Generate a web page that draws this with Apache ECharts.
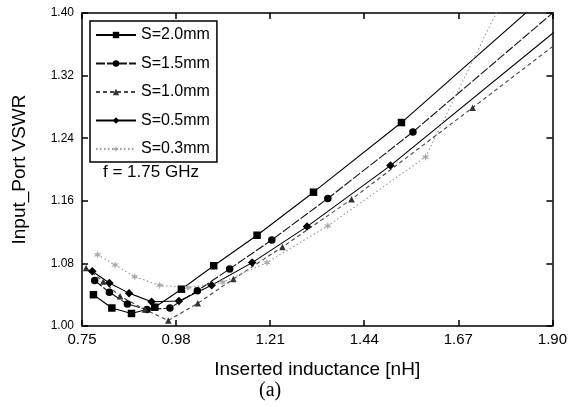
<!DOCTYPE html>
<html><head><meta charset="utf-8">
<script src="https://cdn.jsdelivr.net/npm/echarts@6/dist/echarts.min.js"></script>
<style>html,body{margin:0;padding:0;background:#fff}#c{width:570px;height:407px}</style>
</head><body><div id="c"></div>
<script>
const xTicks = [0.75, 0.98, 1.21, 1.44, 1.67, 1.90];
const yTicks = [1.00, 1.08, 1.16, 1.24, 1.32, 1.40];
const seriesNames = ['S=2.0mm', 'S=1.5mm', 'S=1.0mm', 'S=0.5mm', 'S=0.3mm'];

const s20X = [0.778, 0.823, 0.871, 0.928, 0.993, 1.072, 1.178, 1.316, 1.531, 1.90];
const s20Y = [1.040, 1.023, 1.016, 1.024, 1.047, 1.077, 1.116, 1.171, 1.260, 1.430];

const s15X = [0.781, 0.817, 0.861, 0.909, 0.965, 1.032, 1.111, 1.214, 1.351, 1.559, 1.95];
const s15Y = [1.058, 1.043, 1.028, 1.021, 1.023, 1.045, 1.073, 1.110, 1.163, 1.248, 1.422];

const s10X = [0.760, 0.802, 0.843, 0.904, 0.961, 1.033, 1.120, 1.240, 1.409, 1.705, 1.95];
const s10Y = [1.074, 1.057, 1.038, 1.021, 1.007, 1.029, 1.060, 1.101, 1.162, 1.279, 1.377];

const s05X = [0.775, 0.817, 0.865, 0.920, 0.987, 1.067, 1.166, 1.300, 1.504, 1.95];
const s05Y = [1.070, 1.055, 1.042, 1.031, 1.032, 1.052, 1.081, 1.127, 1.205, 1.395];

const s03X = [0.788, 0.831, 0.879, 0.940, 1.009, 1.094, 1.202, 1.351, 1.590, 1.80];
const s03Y = [1.091, 1.078, 1.063, 1.052, 1.049, 1.056, 1.081, 1.128, 1.216, 1.440];

const pairs = (xs, ys) => xs.map((x, i) => [x, ys[i]]);
const FONT = '"Liberation Sans", Arial, sans-serif';
const starPath = 'path://M0,-10 L2,-3 L9,-5 L4,0 L9,5 L2,3 L0,10 L-2,3 L-9,5 L-4,0 L-9,-5 L-2,-3 Z';

function mk(name, data, symbol, size, color, lineType, lineColor) {
  return {
    name: name, type: 'line', data: data, symbol: symbol, symbolSize: size,
    clip: true, animation: false,
    itemStyle: { color: color },
    lineStyle: { color: lineColor, width: 1.1, type: lineType },
    xAxisIndex: 0, yAxisIndex: 0
  };
}

const chart = echarts.init(document.getElementById('c'), null, { renderer: 'canvas' });
const axisCommon = {
  type: 'value',
  axisLine: { show: true, onZero: false, lineStyle: { color: '#000', width: 1.5 } },
  splitLine: { show: false }
};
chart.setOption({
  animation: false,
  backgroundColor: '#fff',
  grid: { left: 82, right: 17, top: 13, bottom: 81 },
  xAxis: [
    Object.assign({}, axisCommon, {
      min: 0.75, max: 1.90, position: 'bottom',
      axisTick: { show: true, inside: true, length: 6, customValues: xTicks, lineStyle: { color: '#000', width: 1.5 } },
      axisLabel: { show: true, customValues: xTicks, margin: 6, fontSize: 15, fontFamily: FONT, color: '#000',
        formatter: v => v.toFixed(2) },
      name: 'Inserted inductance [nH]', nameLocation: 'middle', nameGap: 34,
      nameTextStyle: { fontSize: 19, fontFamily: FONT, color: '#000' }
    }),
    Object.assign({}, axisCommon, {
      min: 0.75, max: 1.90, position: 'top',
      axisTick: { show: true, inside: true, length: 6, customValues: xTicks, lineStyle: { color: '#000', width: 1.5 } },
      axisLabel: { show: false }
    })
  ],
  yAxis: [
    Object.assign({}, axisCommon, {
      min: 1.00, max: 1.40, position: 'left',
      axisTick: { show: true, inside: true, length: 6, customValues: yTicks, lineStyle: { color: '#000', width: 1.5 } },
      axisLabel: { show: true, customValues: yTicks, margin: 8, fontSize: 12, fontFamily: FONT, color: '#000',
        formatter: v => v.toFixed(2) },
      name: 'Input_Port VSWR', nameLocation: 'middle', nameGap: 53, nameRotate: 90,
      nameTextStyle: { fontSize: 19, fontFamily: FONT, color: '#000' }
    }),
    Object.assign({}, axisCommon, {
      min: 1.00, max: 1.40, position: 'right',
      axisTick: { show: true, inside: true, length: 6, customValues: yTicks, lineStyle: { color: '#000', width: 1.5 } },
      axisLabel: { show: false }
    })
  ],
  legend: {
    orient: 'vertical', left: 90, top: 21,
    data: seriesNames,
    itemWidth: 40, itemHeight: 8, itemGap: 12.5,
    padding: [6, 7, 5, 5],
    borderColor: '#000', borderWidth: 1.5,
    textStyle: { fontSize: 16, fontFamily: FONT, color: '#000' }
  },
  graphic: [
    { type: 'text', left: 103, top: 164, style: { text: 'f = 1.75 GHz', font: '17px ' + FONT, fill: '#000' } },
    { type: 'text', left: 259, top: 381, style: { text: '(a)', font: '20px "Liberation Serif", "DejaVu Serif", serif', fill: '#000' } }
  ],
  series: [
    mk(seriesNames[0], pairs(s20X, s20Y), 'rect', 7.5, '#000', 'solid', '#000'),
    mk(seriesNames[1], pairs(s15X, s15Y), 'circle', 7.5, '#000', [9, 2], '#111'),
    mk(seriesNames[2], pairs(s10X, s10Y), 'triangle', 6.5, '#333', [4, 3], '#444'),
    mk(seriesNames[3], pairs(s05X, s05Y), 'diamond', 8.5, '#000', 'solid', '#000'),
    mk(seriesNames[4], pairs(s03X, s03Y), starPath, 8, '#aaa', [1.5, 2.5], '#999')
  ]
});
</script></body></html>
